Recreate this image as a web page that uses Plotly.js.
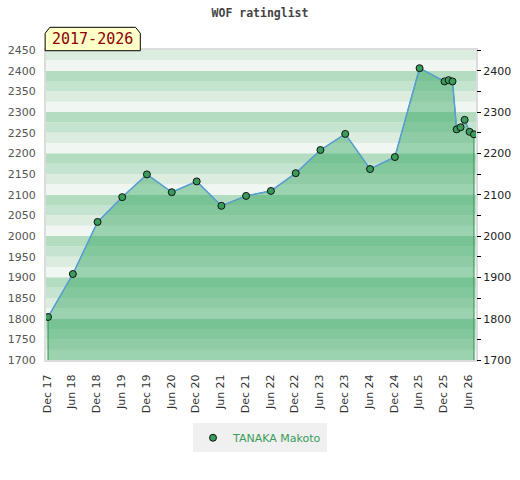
<!DOCTYPE html>
<html>
<head>
<meta charset="utf-8">
<script src="https://cdn.plot.ly/plotly-3.0.1.min.js"></script>
<style>html,body{margin:0;padding:0;background:#fff;}#chart{width:520px;height:480px;}</style>
</head>
<body>
<div id="chart"></div>
<script>
// ---- data ----
const playerName = "TANAKA Makoto";
const periodLabel = "2017-2026";
const chartTitle = "WOF ratinglist";
const ratingDates = ['2017-12-07','2018-06-08','2018-12-07','2019-06-07','2019-12-06','2020-06-06',
  '2020-12-07','2021-06-07','2021-12-06','2022-06-07','2022-12-07','2023-06-07','2023-12-07',
  '2024-06-07','2024-12-07','2025-06-07','2025-12-08','2026-01-07','2026-02-05','2026-03-07',
  '2026-04-05','2026-05-05','2026-06-11','2026-07-13'];
const ratings = [1804, 1908, 2034, 2094, 2149, 2106, 2132, 2073, 2097, 2109, 2152, 2208, 2247,
  2162, 2191, 2406, 2374, 2377, 2374, 2258, 2263, 2281, 2252, 2246];
const yMin = 1700, yMax = 2450;

// ---- styles ----
const stripeColors = {0:'#b3dcc0', 75:'#c5e4cf', 50:'#dcecdf', 25:'#f0f7f2'};
const fillColor = 'rgba(45,165,92,0.44)';

// background stripes (every 25 rating points)
const shapes = [];
for (let h = yMin + 25; h <= yMax; h += 25) {
  shapes.push({type:'rect', xref:'paper', yref:'y', x0:0, x1:1, y0:h-25, y1:h,
    fillcolor: stripeColors[h % 100], line:{width:0}, layer:'below'});
}
// badge with chamfered top corners (paper coordinates)
const bx0 = -0.002, bx1 = 0.2193, by0 = 0.9977, by1 = 1.0732, dx = 0.011, dy = 0.0194;
shapes.push({type:'path', xref:'paper', yref:'paper',
  path:`M ${bx0},${by0} L ${bx0},${by1-dy} L ${bx0+dx},${by1} L ${bx1-dx},${by1} L ${bx1},${by1-dy} L ${bx1},${by0} Z`,
  fillcolor:'#ffffc8', line:{color:'#000', width:1}, layer:'above'});

const polyX = [ratingDates[0]].concat(ratingDates, [ratingDates[ratingDates.length-1]]);
const polyY = [yMin].concat(ratings, [yMin]);

const traces = [
  {x: polyX, y: polyY, type:'scatter', mode:'lines', fill:'toself', fillcolor: fillColor,
   line:{color:'#2f9150', width:1}, hoverinfo:'skip', showlegend:false},
  {x: ratingDates, y: ratings, type:'scatter', mode:'lines',
   line:{color:'#5b9fd8', width:1.5}, showlegend:false},
  {x: ratingDates, y: ratings, type:'scatter', mode:'markers', name: playerName,
   marker:{size:7, color:'#3a9c5a', line:{color:'#111', width:1}}},
  {x: ratingDates, y: ratings, type:'scatter', mode:'none', yaxis:'y2', showlegend:false, hoverinfo:'skip'}
];

const rightVals = [], rightText = [];
for (let v = yMin; v <= yMax; v += 50) { rightVals.push(v); rightText.push(v % 100 === 0 ? String(v) : ''); }

const layout = {
  width: 520, height: 480,
  margin: {l:46, r:44, t:50, b:120},
  paper_bgcolor:'#fff', plot_bgcolor:'#fff',
  font: {family:'DejaVu Sans', size:11, color:'#333'},
  title: {text: chartTitle, x:0.5, xanchor:'center', y: 1 - 13/480, yanchor:'middle', yref:'container',
    font:{family:'DejaVu Sans Mono', size:11.5, color:'#444', weight:'bold'}},
  xaxis: {type:'date', range:['2017-11-22','2026-07-28'], tick0:'2017-12-01', dtick:'M6',
    tickformat:'%b %y', tickangle:-90, ticks:'outside', ticklen:8, tickcolor:'rgba(0,0,0,0)',
    showgrid:false, zeroline:false, showline:true, linecolor:'#dcdcdc', linewidth:2, mirror:true,
    tickfont:{family:'DejaVu Sans', size:11, color:'#333'}},
  yaxis: {range:[yMin, yMax], dtick:50, tick0:yMin, ticks:'outside', ticklen:6, tickcolor:'rgba(0,0,0,0)',
    showgrid:false, zeroline:false, showline:true, linecolor:'#dcdcdc', linewidth:2, mirror:true,
    tickfont:{family:'DejaVu Sans', size:11, color:'#555'}},
  yaxis2: {range:[yMin, yMax], overlaying:'y', side:'right', tickmode:'array', tickvals:rightVals, ticktext:rightText,
    ticks:'outside', ticklen:4, tickcolor:'#000', showgrid:false, zeroline:false, showline:false,
    tickfont:{family:'DejaVu Sans', size:11, color:'#222'}},
  shapes: shapes,
  annotations: [{text: periodLabel, xref:'paper', yref:'paper', x:(bx0+bx1)/2, y:1.035, xanchor:'center', yanchor:'middle',
    showarrow:false, font:{family:'DejaVu Sans Mono', size:15, color:'#8b0000'}}],
  showlegend: true,
  legend: {orientation:'h', x:0.4977, xanchor:'center', y:-0.204, yanchor:'top', bgcolor:'#f0f0f0',
    font:{family:'DejaVu Sans', size:11, color:'#3a9c5a'}, borderwidth:0}
};

Plotly.newPlot('chart', traces, layout, {displayModeBar:false, staticPlot:true});
</script>
</body>
</html>
